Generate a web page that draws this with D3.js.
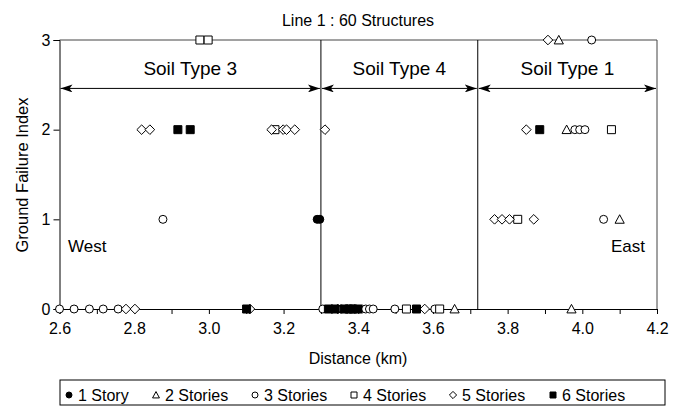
<!DOCTYPE html>
<html>
<head>
<meta charset="utf-8">
<script src="https://cdn.jsdelivr.net/npm/d3@7"></script>
<style>
  body { margin: 0; background: #fff; }
  text { font-family: "Liberation Sans", Arial, sans-serif; fill: #000; }
</style>
</head>
<body>
<svg id="chart"></svg>
<script>
// values
let story1X = [3.290, 3.297, 3.330, 3.355, 3.370, 3.380, 3.390];
let story1Y = [1, 1, 0, 0, 0, 0, 0];
let story2X = [3.937, 3.958, 4.100, 3.658, 3.971];
let story2Y = [3, 2, 1, 0, 0];
let story3X = [2.600, 2.639, 2.680, 2.717, 2.757, 3.305, 3.410, 3.420, 3.430, 3.440, 3.498, 3.605, 2.877, 4.057, 3.980, 3.993, 4.007, 4.025];
let story3Y = [0, 0, 0, 0, 0, 0, 0, 0, 0, 0, 0, 0, 1, 1, 2, 2, 2, 3];
let story4X = [2.976, 2.998, 3.177, 4.078, 3.827, 3.529, 3.618];
let story4Y = [3, 3, 2, 2, 1, 0, 0];
let story5X = [2.778, 2.802, 3.110, 3.345, 3.578, 3.765, 3.785, 3.805, 3.870, 2.820, 2.842, 3.168, 3.199, 3.208, 3.230, 3.311, 3.850, 3.908];
let story5Y = [0, 0, 0, 0, 0, 1, 1, 1, 1, 2, 2, 2, 2, 2, 2, 2, 2, 3];
let story6X = [3.101, 3.320, 3.338, 3.362, 3.375, 3.385, 3.398, 3.556, 2.917, 2.950, 3.886];
let story6Y = [0, 0, 0, 0, 0, 0, 0, 0, 2, 2, 2];

let seriesNames = ["1 Story", "2 Stories", "3 Stories", "4 Stories", "5 Stories", "6 Stories"];
let xTicks = [2.6, 2.8, 3.0, 3.2, 3.4, 3.6, 3.8, 4.0, 4.2];
let yTicks = [0, 1, 2, 3];

let soilBounds = [2.6, 3.3, 3.72, 4.2];
let soilNames = ["Soil Type 3", "Soil Type 4", "Soil Type 1"];
let arrowLevel = 2.46;

let svgWidth = 684;
let svgHeight = 406;

let svg = d3.select("#chart")
    .attr("width", svgWidth)
    .attr("height", svgHeight);

let x = d3.scaleLinear().domain([2.6, 4.2]).range([59.5, 657]);
let y = d3.scaleLinear().domain([0, 3]).range([309, 40]);

let series = [
    { name: seriesNames[0], xs: story1X, ys: story1Y, shape: "circle", fill: "#000" },
    { name: seriesNames[1], xs: story2X, ys: story2Y, shape: "triangle", fill: "#fff" },
    { name: seriesNames[2], xs: story3X, ys: story3Y, shape: "circle", fill: "#fff" },
    { name: seriesNames[3], xs: story4X, ys: story4Y, shape: "square", fill: "#fff" },
    { name: seriesNames[4], xs: story5X, ys: story5Y, shape: "diamond", fill: "#fff" },
    { name: seriesNames[5], xs: story6X, ys: story6Y, shape: "square", fill: "#000" }
];

// marker path centred on 0,0 with half size r
function markerPath(shape, r) {
    if (shape == "circle") {
        return "M" + r + ",0A" + r + "," + r + " 0 1,1 " + (-r) + ",0A" + r + "," + r + " 0 1,1 " + r + ",0Z";
    }
    if (shape == "square") {
        return "M" + (-r) + "," + (-r) + "H" + r + "V" + r + "H" + (-r) + "Z";
    }
    if (shape == "diamond") {
        let d = r * 1.2;
        return "M0," + (-d) + "L" + d + ",0L0," + d + "L" + (-d) + ",0Z";
    }
    // triangle
    let t = r * 1.15;
    return "M0," + (-t) + "L" + t + "," + (t * 0.85) + "L" + (-t) + "," + (t * 0.85) + "Z";
}

// plot frame
svg.append("path")
    .attr("d", "M" + x(2.6) + "," + y(3) + "H" + x(4.2) + "V" + y(0))
    .attr("fill", "none")
    .attr("stroke", "#444")
    .attr("stroke-width", 1);

// soil boundaries
svg.selectAll(".bound")
    .data(soilBounds.slice(1, 3))
    .enter()
    .append("line")
    .attr("x1", d => x(d)).attr("x2", d => x(d))
    .attr("y1", y(3)).attr("y2", y(0))
    .attr("stroke", "#000")
    .attr("stroke-width", 1);

// arrowheads
let defs = svg.append("defs");
defs.append("marker")
    .attr("id", "arrow")
    .attr("viewBox", "0 0 12 8")
    .attr("refX", 12).attr("refY", 4)
    .attr("markerWidth", 12).attr("markerHeight", 8)
    .attr("markerUnits", "userSpaceOnUse")
    .attr("orient", "auto-start-reverse")
    .append("path")
    .attr("d", "M0,0L12,4L0,8L3,4Z")
    .attr("fill", "#000");

for (let i = 0; i < soilNames.length; i++) {
    svg.append("line")
        .attr("x1", x(soilBounds[i]) + 1).attr("x2", x(soilBounds[i + 1]) - 1)
        .attr("y1", y(arrowLevel)).attr("y2", y(arrowLevel))
        .attr("stroke", "#000")
        .attr("stroke-width", 1)
        .attr("marker-start", "url(#arrow)")
        .attr("marker-end", "url(#arrow)");

    svg.append("text")
        .attr("x", (x(soilBounds[i]) + x(soilBounds[i + 1])) / 2)
        .attr("y", 75)
        .attr("text-anchor", "middle")
        .attr("font-size", "19px")
        .text(soilNames[i]);
}

// axes
let xAxis = d3.axisBottom(x)
    .tickValues(d3.range(26, 43).map(d => d / 10))
    .tickSize(5)
    .tickFormat(d => xTicks.some(t => Math.abs(t - d) < 1e-6) ? d3.format(".1f")(d) : "");

let gx = svg.append("g")
    .attr("transform", "translate(0," + y(0) + ")")
    .call(xAxis);
gx.select(".domain").attr("stroke", "#000");
gx.selectAll("text").attr("font-size", "16px").attr("dy", "1.05em").attr("fill", "#000");

let yAxis = d3.axisLeft(y)
    .tickValues(yTicks)
    .tickSize(6)
    .tickFormat(d3.format("d"));

let gy = svg.append("g")
    .attr("transform", "translate(" + x(2.6) + ",0)")
    .call(yAxis);
gy.selectAll("text").attr("font-size", "16px").attr("fill", "#000");

// points
series.forEach(function (s) {
    svg.append("g")
        .selectAll("path")
        .data(s.xs.map((v, i) => [v, s.ys[i]]))
        .enter()
        .append("path")
        .attr("transform", d => "translate(" + x(d[0]) + "," + y(d[1]) + ")")
        .attr("d", markerPath(s.shape, 4))
        .attr("fill", s.fill)
        .attr("stroke", "#000")
        .attr("stroke-width", 1);
});

// labels
svg.append("text")
    .attr("x", 358).attr("y", 26)
    .attr("text-anchor", "middle")
    .attr("font-size", "16px")
    .text("Line 1 : 60 Structures");

svg.append("text")
    .attr("x", 358).attr("y", 364)
    .attr("text-anchor", "middle")
    .attr("font-size", "16px")
    .text("Distance (km)");

svg.append("text")
    .attr("transform", "translate(28,175)rotate(-90)")
    .attr("text-anchor", "middle")
    .attr("font-size", "16.5px")
    .text("Ground Failure Index");

svg.append("text")
    .attr("x", 68).attr("y", 252)
    .attr("font-size", "17px")
    .text("West");

svg.append("text")
    .attr("x", 645).attr("y", 252)
    .attr("text-anchor", "end")
    .attr("font-size", "17px")
    .text("East");

// legend
let legendX = [66, 153, 252, 351, 450, 550];
svg.append("rect")
    .attr("x", 60).attr("y", 380)
    .attr("width", 605).attr("height", 25)
    .attr("fill", "#fff")
    .attr("stroke", "#000");

let legend = svg.selectAll(".legend")
    .data(series)
    .enter()
    .append("g")
    .attr("transform", (d, i) => "translate(" + legendX[i] + ",395)");

legend.append("path")
    .attr("transform", "translate(3,0)")
    .attr("d", d => markerPath(d.shape, 3))
    .attr("fill", d => d.fill)
    .attr("stroke", "#000");

legend.append("text")
    .attr("x", 12).attr("y", 6)
    .attr("font-size", "16px")
    .text(d => d.name);
</script>
</body>
</html>
